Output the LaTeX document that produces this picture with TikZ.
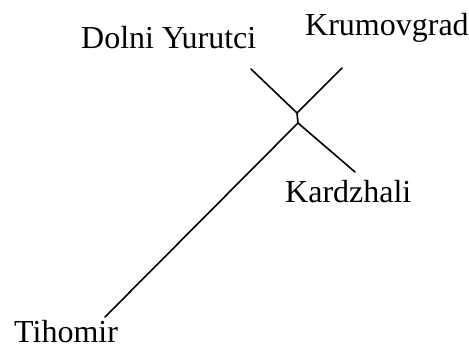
\documentclass[tikz,border=0pt]{standalone}
\usepackage{fontspec}
\setmainfont{Liberation Serif}
\begin{document}
\begin{tikzpicture}[x=1pt,y=-1pt,
  lbl/.style={anchor=base west,inner sep=0pt,font=\fontsize{32}{38}\selectfont},
  edge/.style={line width=1.6pt,line cap=round,line join=round}]
\useasboundingbox (0,0) rectangle (469,348);
\node[lbl] (dy) at (81,48) {Dolni Yurutci};
\node[lbl] (kr) at (305,35) {Krumovgrad};
\node[lbl] (ka) at (285,202) {Kardzhali};
\node[lbl] (ti) at (14,342) {Tihomir};
\coordinate (edy) at (251,69);
\coordinate (ekr) at (342,68);
\coordinate (eka) at (355,172);
\coordinate (eti) at (105,317);
\coordinate (up) at (297,113);
\coordinate (lo) at (298,123);
\draw[edge] (edy) -- (up) -- (ekr);
\draw[edge] (up) -- (lo);
\draw[edge] (eti) -- (lo) -- (eka);
\end{tikzpicture}
\end{document}
